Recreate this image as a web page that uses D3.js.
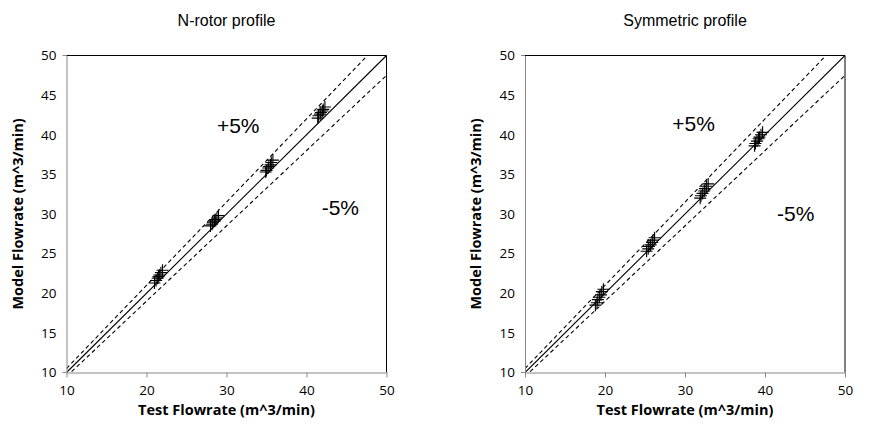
<!DOCTYPE html>
<html>
<head>
<meta charset="utf-8">
<script src="https://cdn.jsdelivr.net/npm/d3@7"></script>
<style>
  body { margin: 0; background: #fff; }
  svg { font-family: "Liberation Sans", Arial, sans-serif; }
</style>
</head>
<body>
<svg id="chart" width="890" height="436"></svg>
<script>
const axisTicks = [10, 20, 30, 40, 50];
const yTicks = [10, 15, 20, 25, 30, 35, 40, 45, 50];

const nrotorTest  = [21.0, 21.2, 21.4, 21.5, 21.6, 21.8, 22.0, 28.0, 28.2, 28.3, 28.5, 28.6, 28.8, 29.0,
                     34.9, 35.0, 35.2, 35.3, 35.5, 35.6, 35.8, 41.4, 41.5, 41.7, 41.8, 42.0, 42.1, 42.3];
const nrotorModel = [21.3, 21.6, 21.9, 22.1, 22.3, 22.6, 22.9, 28.5, 28.7, 28.9, 29.1, 29.3, 29.5, 29.8,
                     35.3, 35.5, 35.8, 36.0, 36.2, 36.5, 36.8, 42.1, 42.4, 42.6, 42.8, 43.0, 43.2, 43.5];

const symTest  = [18.8, 19.0, 19.1, 19.3, 19.5, 19.6, 19.8, 25.2, 25.4, 25.5, 25.7, 25.9, 26.0, 26.2,
                  31.9, 32.0, 32.2, 32.4, 32.5, 32.7, 32.9, 38.7, 38.8, 39.0, 39.2, 39.3, 39.5, 39.7];
const symModel = [18.5, 18.8, 19.2, 19.5, 19.8, 20.2, 20.5, 25.3, 25.6, 25.9, 26.1, 26.4, 26.7, 27.0,
                  32.0, 32.3, 32.6, 32.9, 33.2, 33.5, 33.8, 38.6, 38.9, 39.2, 39.5, 39.7, 40.0, 40.3];

const refLines = [
  { k: 1.00, dash: null },
  { k: 1.05, dash: "4,3" },
  { k: 0.95, dash: "4,3" }
];

const svg = d3.select("#chart");

function drawPanel(left, title, tests, models, plusPos, minusPos) {
  const x = d3.scaleLinear().domain([10, 50]).range([left, left + 320]);
  const y = d3.scaleLinear().domain([10, 50]).range([372.5, 55.5]);
  const g = svg.append("g");

  const clipId = "clip" + Math.round(left);
  g.append("clipPath").attr("id", clipId).append("rect")
    .attr("x", x(10)).attr("y", y(50)).attr("width", 320).attr("height", y(10) - y(50));

  // reference lines y = k*x
  refLines.forEach(r => {
    g.append("line")
      .attr("clip-path", `url(#${clipId})`)
      .attr("x1", x(10)).attr("y1", y(10 * r.k))
      .attr("x2", x(50)).attr("y2", y(50 * r.k))
      .attr("stroke", "#000").attr("stroke-width", 1.1)
      .attr("stroke-dasharray", r.dash);
  });

  // plus markers
  const pts = tests.map((t, i) => [t, models[i]]);
  g.selectAll("path.pt").data(pts).enter().append("path")
    .attr("class", "pt")
    .attr("d", d => {
      const cx = x(d[0]), cy = y(d[1]), s = 6;
      return `M${cx - s},${cy}H${cx + s}M${cx},${cy - s}V${cy + s}`;
    })
    .attr("stroke", "#000").attr("stroke-width", 1.1);

  // border: top and right black, bottom and left gray axes
  g.append("line").attr("x1", x(10)).attr("x2", x(50)).attr("y1", y(50)).attr("y2", y(50))
    .attr("stroke", "#000");
  g.append("line").attr("x1", x(50)).attr("x2", x(50)).attr("y1", y(50)).attr("y2", y(10))
    .attr("stroke", "#000");

  const xAxis = g.append("g").attr("transform", `translate(0,${y(10)})`)
    .call(d3.axisBottom(x).tickValues(axisTicks).tickSize(5).tickSizeOuter(0));
  xAxis.selectAll("path, line").attr("stroke", "#888");
  xAxis.selectAll("text").attr("font-family", "'Open Sans', sans-serif")
    .attr("font-size", 13.5).attr("fill", "#000").attr("dy", "1.05em");

  const yAxis = g.append("g").attr("transform", `translate(${x(10)},0)`)
    .call(d3.axisLeft(y).tickValues(yTicks).tickSize(0).tickPadding(10).tickSizeOuter(0));
  yAxis.selectAll("path").attr("stroke", "#888");
  yAxis.selectAll("text").attr("font-family", "'Open Sans', sans-serif")
    .attr("font-size", 13.5).attr("fill", "#000");
  [10, 50].forEach(v => {
    g.append("line").attr("x1", x(10) - 4).attr("x2", x(10)).attr("y1", y(v)).attr("y2", y(v))
      .attr("stroke", "#888");
  });

  g.append("text").attr("x", left + 160).attr("y", 26).attr("text-anchor", "middle")
    .attr("font-size", 16).text(title);

  g.append("text").attr("x", left + 160).attr("y", 415).attr("text-anchor", "middle")
    .attr("font-family", "'Open Sans', sans-serif")
    .attr("font-size", 14.5).attr("font-weight", "bold").text("Test Flowrate (m^3/min)");

  g.append("text").attr("transform", `translate(${left - 44},${(y(10) + y(50)) / 2}) rotate(-90)`)
    .attr("font-family", "'Open Sans', sans-serif")
    .attr("text-anchor", "middle").attr("font-size", 14.5).attr("font-weight", "bold")
    .text("Model Flowrate (m^3/min)");

  g.append("text").attr("x", x(plusPos[0])).attr("y", y(plusPos[1]))
    .attr("font-size", 21).text("+5%");
  g.append("text").attr("x", x(minusPos[0])).attr("y", y(minusPos[1]))
    .attr("font-size", 21).text("-5%");
}

drawPanel(66.5, "N-rotor profile", nrotorTest, nrotorModel, [28.8, 40.2], [41.9, 29.9]);
drawPanel(525, "Symmetric profile", symTest, symModel, [28.4, 40.5], [41.5, 29.1]);
</script>
</body>
</html>
